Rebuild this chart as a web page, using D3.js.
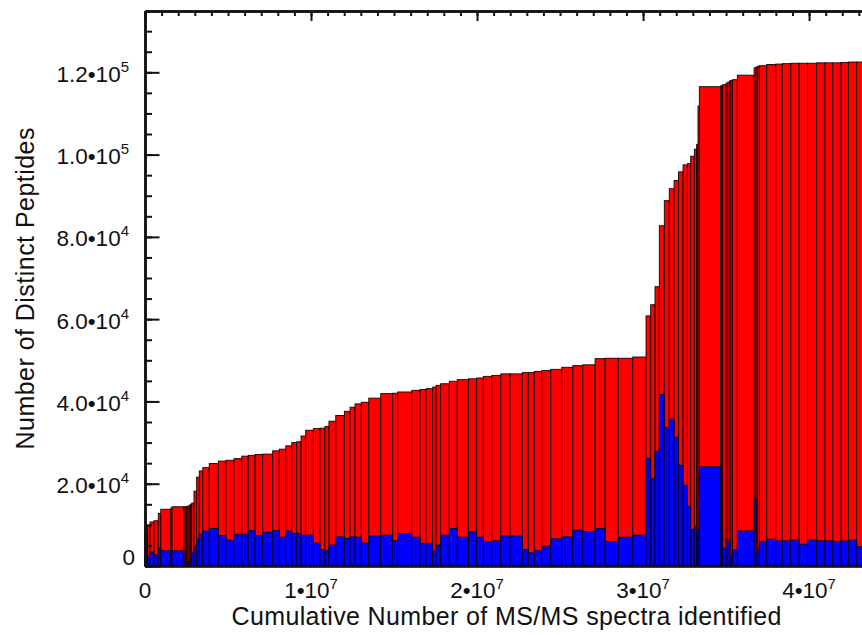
<!DOCTYPE html>
<html lang="en">
<head>
<meta charset="UTF-8">
<title>Distinct peptides vs cumulative MS/MS spectra</title>
<script src="https://d3js.org/d3.v7.min.js"></script>
<style>
    body { margin: 0; background: #fff; }
    svg text { font-family: "Liberation Sans", Arial, Helvetica, sans-serif; fill: #111; }
</style>
</head>
<body>
<div id="chart"></div>
<script>
    // right edge of each run along x (cumulative identified spectra, millions)
    const cumSpectra = [
        0.14, 0.30, 0.54, 0.80, 0.95, 1.55, 1.63, 2.35, 2.43, 2.51, 2.59, 2.67, 2.74, 2.81,
        2.95, 3.11, 3.27, 3.48, 3.87, 4.42, 4.88, 5.36, 5.83,
        6.22, 6.63, 7.09, 7.69, 8.09, 8.48, 8.84, 9.14, 9.40, 9.68,
        10.14, 10.54, 10.84, 11.08, 11.49, 12.01, 12.35, 12.65, 13.03, 13.48,
        14.20, 14.92, 15.22, 16.07, 16.57, 16.93, 17.33, 17.53, 17.81, 18.33,
        18.81, 19.48, 19.98, 20.38, 20.89, 21.43, 21.99, 22.73, 23.09, 23.45,
        23.90, 24.44, 25.10, 25.77, 26.37, 27.11, 27.71, 28.51, 29.38, 30.18,
        30.46, 30.72, 30.98, 31.28, 31.58, 31.87, 32.14, 32.41, 32.67, 32.87,
        33.09, 33.23, 33.31, 33.39, 34.68, 34.74, 34.80, 35.00, 35.10, 35.20, 35.29, 35.38, 35.68,
        36.69, 36.81, 36.91, 37.01, 37.45, 37.99, 38.39, 38.90, 39.40, 39.90, 40.46,
        40.96, 41.43, 41.93, 42.37, 42.87, 43.55
    ];

    // distinct peptides seen so far, after each run (thousands) - red
    const cumPeptides = [
        9.7, 9.9, 10.7, 11.0, 12.8, 13.8, 14.1, 14.4, 14.4, 14.4, 14.5, 14.6, 14.8, 15.0,
        15.3, 18.2, 21.6, 23.1, 23.9, 24.9, 25.5, 25.7, 26.1,
        26.7, 26.9, 27.1, 27.2, 28.0, 28.4, 29.2, 30.0, 30.2, 31.6,
        33.0, 33.4, 33.5, 33.9, 35.2, 36.6, 37.6, 38.6, 39.4, 39.8,
        40.8, 41.9, 42.0, 42.3, 42.7, 42.9, 43.1, 43.5, 43.9, 44.3,
        44.9, 45.3, 45.5, 45.7, 46.1, 46.3, 46.7, 46.7, 47.0, 47.0,
        47.3, 47.5, 47.8, 48.3, 48.7, 48.9, 50.4, 50.5, 50.5, 50.8,
        60.8, 63.5, 67.9, 82.7, 88.8, 91.7, 93.7, 95.8, 97.5, 97.8,
        99.6, 101.3, 102.5, 111.8, 116.5, 116.7, 116.8, 117.0, 117.4, 117.6, 117.9, 118.0, 118.2,
        119.3, 121.1, 121.3, 121.5, 121.6, 121.9, 122.0, 122.1, 122.2, 122.2, 122.2,
        122.3, 122.3, 122.3, 122.4, 122.5, 122.5
    ];

    // distinct peptides in that run alone (thousands) - blue
    const runPeptides = [
        7.8, 2.2, 3.4, 2.7, 4.4, 3.7, 1.5, 3.7, 0.3, 0.6, 0.3, 1.0, 0.5, 0.7,
        3.2, 4.7, 6.5, 7.7, 8.5, 9.1, 7.4, 6.3, 7.7,
        7.7, 8.6, 7.4, 8.2, 8.6, 7.0, 8.5, 7.9, 7.9, 7.5,
        7.5, 5.6, 4.0, 3.7, 5.1, 7.1, 6.7, 7.1, 7.0, 5.6,
        7.3, 7.5, 6.1, 7.9, 7.0, 5.5, 5.5, 3.5, 5.1, 7.5,
        9.1, 7.0, 8.3, 7.0, 5.9, 6.1, 7.3, 7.3, 4.0, 3.2,
        3.7, 4.8, 6.6, 7.1, 8.7, 8.4, 9.1, 5.9, 7.0, 7.5,
        26.1, 21.2, 27.9, 41.7, 33.7, 35.7, 31.3, 24.5, 19.6, 14.5,
        8.9, 9.7, 7.3, 8.7, 24.1, 10.5, 8.3, 4.3, 6.4, 5.9, 1.0, 2.1, 3.9,
        8.5, 16.1, 3.0, 4.0, 5.9, 6.5, 6.1, 6.1, 6.3, 5.3, 6.3,
        6.1, 6.1, 5.9, 6.1, 6.3, 4.7
    ];

    const xTickValues = [0, 1e7, 2e7, 3e7, 4e7];
    const xTickBase = ["0", "1•10", "2•10", "3•10", "4•10"];
    const xTickExp = ["", "7", "7", "7", "7"];

    const yTickValues = [0, 2e4, 4e4, 6e4, 8e4, 1e5, 1.2e5];
    const yTickBase = ["0", "2.0•10", "4.0•10", "6.0•10", "8.0•10", "1.0•10", "1.2•10"];
    const yTickExp = ["", "4", "4", "4", "4", "5", "5"];

    const width = 862;
    const height = 635;
    const plotLeft = 145, plotRight = 868, plotTop = 11, plotBottom = 566;

    const svg = d3.select("#chart").append("svg")
        .attr("width", width)
        .attr("height", height);

    const x = d3.scaleLinear().domain([0, 4.355e7]).range([plotLeft, plotRight]);
    const y = d3.scaleLinear().domain([0, 1.349e5]).range([plotBottom, plotTop]);

    const bars = cumSpectra.map((c, i) => ({
        x0: (i ? cumSpectra[i - 1] : 0) * 1e6,
        x1: c * 1e6,
        total: cumPeptides[i] * 1e3,
        run: runPeptides[i] * 1e3
    }));

    function styleAxis(g) {
        g.select(".domain").attr("stroke", "#111").attr("stroke-width", 2.5);
        g.selectAll(".tick line").attr("stroke", "#111").attr("stroke-width", 2);
        g.selectAll(".tick text").remove();
    }

    // top axis, ticks pointing down into the plot
    svg.append("g")
        .attr("transform", `translate(0,${plotTop})`)
        .call(d3.axisTop(x).tickValues(d3.range(0, 4.36e7, 1e6)).tickSize(-5).tickSizeOuter(0))
        .call(styleAxis);
    svg.append("g")
        .attr("transform", `translate(0,${plotTop})`)
        .call(d3.axisTop(x).tickValues(xTickValues).tickSize(-10).tickSizeOuter(0))
        .call(styleAxis);

    // bottom ticks sit underneath the bars
    svg.append("g")
        .attr("transform", `translate(0,${plotBottom})`)
        .call(d3.axisBottom(x).tickValues(xTickValues).tickSize(-10).tickSizeOuter(0))
        .call(styleAxis);

    // red: cumulative distinct peptides
    svg.append("g")
        .selectAll("rect")
        .data(bars)
        .join("rect")
        .attr("x", d => x(d.x0))
        .attr("width", d => x(d.x1) - x(d.x0))
        .attr("y", d => y(d.total))
        .attr("height", d => y(0) - y(d.total))
        .attr("fill", "#ff0000")
        .attr("stroke", "#1a0000")
        .attr("stroke-width", 0.9);

    // blue: peptides found in each run
    svg.append("g")
        .selectAll("rect")
        .data(bars)
        .join("rect")
        .attr("x", d => x(d.x0))
        .attr("width", d => x(d.x1) - x(d.x0))
        .attr("y", d => y(d.run))
        .attr("height", d => y(0) - y(d.run))
        .attr("fill", "#0000ff")
        .attr("stroke", "#00001a")
        .attr("stroke-width", 0.9);

    // left axis, ticks pointing right
    svg.append("g")
        .attr("transform", `translate(${plotLeft},0)`)
        .call(d3.axisLeft(y).tickValues(d3.range(0, 1.35e5, 5e3)).tickSize(-7).tickSizeOuter(0))
        .call(styleAxis);
    svg.append("g")
        .attr("transform", `translate(${plotLeft},0)`)
        .call(d3.axisLeft(y).tickValues(yTickValues).tickSize(-14.5).tickSizeOuter(0))
        .call(styleAxis);

    svg.append("line")
        .attr("x1", plotLeft).attr("x2", plotRight)
        .attr("y1", plotBottom).attr("y2", plotBottom)
        .attr("stroke", "#111").attr("stroke-width", 2.5);

    // tick labels with superscript exponents
    svg.append("g")
        .selectAll("text")
        .data(yTickValues)
        .join("text")
        .attr("x", (d, i) => i === 0 ? 135 : 129)
        .attr("y", (d, i) => i === 0 ? 565 : y(d) + 9.5)
        .attr("text-anchor", "end")
        .style("font-size", "22.5px")
        .each(function(d, i) {
            const t = d3.select(this);
            t.append("tspan").text(yTickBase[i]);
            if (yTickExp[i]) t.append("tspan").attr("dy", -10).style("font-size", "15px").text(yTickExp[i]);
        });

    svg.append("g")
        .selectAll("text")
        .data(xTickValues)
        .join("text")
        .attr("x", d => x(d))
        .attr("y", 598)
        .attr("text-anchor", "middle")
        .style("font-size", "22.5px")
        .each(function(d, i) {
            const t = d3.select(this);
            t.append("tspan").text(xTickBase[i]);
            if (xTickExp[i]) t.append("tspan").attr("dy", -9).style("font-size", "15px").text(xTickExp[i]);
        });

    svg.append("text")
        .attr("x", (plotLeft + plotRight) / 2)
        .attr("y", 625)
        .attr("text-anchor", "middle")
        .attr("textLength", 550)
        .style("font-size", "25px")
        .text("Cumulative Number of MS/MS spectra identified");

    svg.append("text")
        .attr("transform", `translate(34,${(plotTop + plotBottom) / 2}) rotate(-90)`)
        .attr("text-anchor", "middle")
        .attr("textLength", 322)
        .style("font-size", "25px")
        .text("Number of Distinct Peptides");
</script>
</body>
</html>
